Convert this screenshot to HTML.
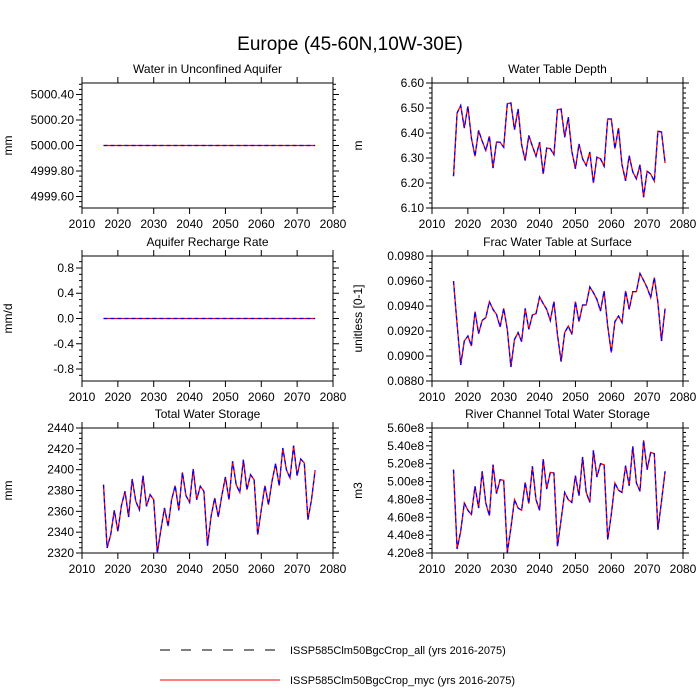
<!DOCTYPE html>
<html><head><meta charset="utf-8"><style>
body{margin:0;background:#fff;}
svg{display:block;font-family:"Liberation Sans",sans-serif;}
</style></head><body>
<svg id="chart" width="700" height="700" viewBox="0 0 700 700">
<text x="350" y="50" font-size="19" text-anchor="middle">Europe (45-60N,10W-30E)</text>
<g>
<line x1="160" y1="650" x2="280" y2="650" stroke="#000" stroke-dasharray="10,11"/>
<text x="290" y="654" font-size="11">ISSP585Clm50BgcCrop_all (yrs 2016-2075)</text>
<line x1="160" y1="680" x2="280" y2="680" stroke="#f00"/>
<text x="290" y="684" font-size="11">ISSP585Clm50BgcCrop_myc (yrs 2016-2075)</text>
</g>
</svg>
<script>
const years=[];for(let y=2016;y<=2075;y++)years.push(y);
const xTicks=[2010,2020,2030,2040,2050,2060,2070,2080];
const aquiferVals=new Array(60).fill(5000);
const rechargeVals=new Array(60).fill(0);
const wtdVals=[6.227,6.48,6.51,6.42,6.507,6.38,6.307,6.41,6.367,6.33,6.387,6.26,6.364,6.363,6.343,6.517,6.52,6.413,6.496,6.353,6.29,6.39,6.347,6.307,6.363,6.236,6.34,6.337,6.313,6.493,6.496,6.383,6.463,6.327,6.257,6.356,6.297,6.27,6.324,6.2,6.303,6.297,6.267,6.456,6.456,6.337,6.42,6.273,6.209,6.309,6.244,6.217,6.273,6.143,6.247,6.236,6.207,6.407,6.404,6.28];
const fracVals=[0.0960,0.09253,0.08928,0.0912,0.0916,0.0908,0.09355,0.09179,0.09285,0.09307,0.09435,0.09373,0.09333,0.09232,0.09381,0.09213,0.08912,0.09133,0.09187,0.09115,0.09381,0.09213,0.09328,0.09339,0.09472,0.09419,0.09373,0.09285,0.09435,0.09168,0.08955,0.09187,0.0924,0.09173,0.09435,0.09275,0.09408,0.09408,0.09552,0.09507,0.09453,0.0936,0.0952,0.0924,0.09027,0.09275,0.0932,0.09267,0.0952,0.09373,0.09515,0.09515,0.09659,0.09605,0.09547,0.09467,0.09627,0.09427,0.0912,0.09381];
const twsVals=[2385.6,2324.8,2337.6,2361,2340.8,2365.4,2379.2,2354.6,2391,2369.6,2361.6,2394.2,2364.8,2376,2371.2,2320,2342.4,2363.2,2345.6,2371.2,2384.6,2361,2397.4,2375,2368.6,2400.6,2371.2,2384,2379.2,2327,2355.2,2372.8,2354.6,2375,2393,2371.2,2408,2385.6,2378.2,2409.6,2380.8,2395.2,2390.4,2337.6,2361.6,2384.6,2366.4,2388.8,2405.8,2384.6,2420.8,2400,2392,2423,2394.2,2410.2,2406.4,2352,2371.2,2399.4];
const riverVals=[5.133,4.245,4.443,4.76,4.678,4.63,4.947,4.704,5.115,4.76,4.618,5.189,4.865,5.021,5.014,4.207,4.48,4.797,4.704,4.678,4.991,4.753,5.171,4.797,4.678,5.253,4.917,5.103,5.096,4.275,4.573,4.879,4.797,4.767,5.066,4.842,5.275,4.879,4.767,5.35,5.051,5.2,5.189,4.349,4.63,4.984,4.902,4.879,5.178,4.954,5.395,4.984,4.891,5.462,5.133,5.327,5.312,4.461,4.779,5.115];
const panels=[
 {name:'aquifer',title:'Water in Unconfined Aquifer',ylab:'mm',x0:82,y0:83,vals:aquiferVals,ymin:4999.51,ymax:5000.49,ticks:[4999.6,4999.8,5000,5000.2,5000.4],fmt:v=>v.toFixed(2),minor:4},
 {name:'wtd',title:'Water Table Depth',ylab:'m',x0:432,y0:83,vals:wtdVals,ymin:6.1,ymax:6.6,ticks:[6.1,6.2,6.3,6.4,6.5,6.6],fmt:v=>v.toFixed(2),minor:4},
 {name:'recharge',title:'Aquifer Recharge Rate',ylab:'mm/d',x0:82,y0:256,vals:rechargeVals,ymin:-0.99,ymax:0.99,ticks:[-0.8,-0.4,0,0.4,0.8],fmt:v=>v.toFixed(1),minor:3},
 {name:'frac',title:'Frac Water Table at Surface',ylab:'unitless [0-1]',x0:432,y0:256,vals:fracVals,ymin:0.088,ymax:0.098,ticks:[0.088,0.09,0.092,0.094,0.096,0.098],fmt:v=>v.toFixed(4),minor:3},
 {name:'tws',title:'Total Water Storage',ylab:'mm',x0:82,y0:428,vals:twsVals,ymin:2320,ymax:2440,ticks:[2320,2340,2360,2380,2400,2420,2440],fmt:v=>v.toFixed(0),minor:3},
 {name:'river',title:'River Channel Total Water Storage',ylab:'m3',x0:432,y0:428,vals:riverVals,ymin:4.2,ymax:5.6,ticks:[4.2,4.4,4.6,4.8,5.0,5.2,5.4,5.6],fmt:v=>v.toFixed(2)+'e8',minor:3}
];
const W=251,H=125,NS='http://www.w3.org/2000/svg';
const svg=document.getElementById('chart');
function mk(tag,attrs,parent){const e=document.createElementNS(NS,tag);for(const k in attrs)e.setAttribute(k,attrs[k]);parent.appendChild(e);return e;}
panels.forEach(p=>{
 const g=mk('g',{},svg);
 
 
 const xs=v=>p.x0+(v-2010)/70*W;
 const ys=v=>p.y0+H-(v-p.ymin)/(p.ymax-p.ymin)*H;
 const t=mk('text',{x:p.x0+W/2,y:p.y0-10,'font-size':12,'text-anchor':'middle'},g);t.textContent=p.title;
 
 
 const yl=mk('text',{x:0,y:0,'font-size':12,'text-anchor':'middle',transform:`translate(${p.x0-70},${p.y0+H/2}) rotate(-90)`},g);yl.textContent=p.ylab;
 
 
 xTicks.forEach(v=>{const x=xs(v);
  mk('line',{x1:x,y1:p.y0+H,x2:x,y2:p.y0+H+6,stroke:'#000'},g);
  mk('line',{x1:x,y1:p.y0,x2:x,y2:p.y0-6,stroke:'#000'},g);
  const l=mk('text',{x:x,y:p.y0+H+20,'font-size':12,'text-anchor':'middle'},g);l.textContent=v;
  
  
 });
 const step=p.ticks[1]-p.ticks[0];
 for(let i=-1;i<p.ticks.length;i++){
  const base=i<0?p.ticks[0]-step:p.ticks[i];
  for(let m=1;m<=p.minor;m++){const v=base+step*m/(p.minor+1);if(v<p.ymin||v>p.ymax)continue;const y=ys(v);
   mk('line',{x1:p.x0,y1:y,x2:p.x0-3,y2:y,stroke:'#000'},g);
   mk('line',{x1:p.x0+W,y1:y,x2:p.x0+W+3,y2:y,stroke:'#000'},g);}
 }
 p.ticks.forEach(v=>{const y=ys(v);
  mk('line',{x1:p.x0,y1:y,x2:p.x0-6,y2:y,stroke:'#000'},g);
  mk('line',{x1:p.x0+W,y1:y,x2:p.x0+W+6,y2:y,stroke:'#000'},g);
  const l=mk('text',{x:p.x0-8,y:y+4,'font-size':12,'text-anchor':'end'},g);l.textContent=p.fmt(v);
  
  
 });
 mk('rect',{x:p.x0,y:p.y0,width:W,height:H,fill:'none',stroke:'#000'},g);
 const pts=p.vals.map((v,i)=>xs(years[i]).toFixed(1)+','+ys(v).toFixed(1)).join(' ');
 const r=mk('polyline',{points:pts,fill:'none',stroke:'#f00','stroke-width':1.3},g);
 
 
 const b=mk('polyline',{points:pts,fill:'none',stroke:'#00f','stroke-width':1.3,'stroke-dasharray':'4,3'},g);
 
 
});
</script>
</body></html>
